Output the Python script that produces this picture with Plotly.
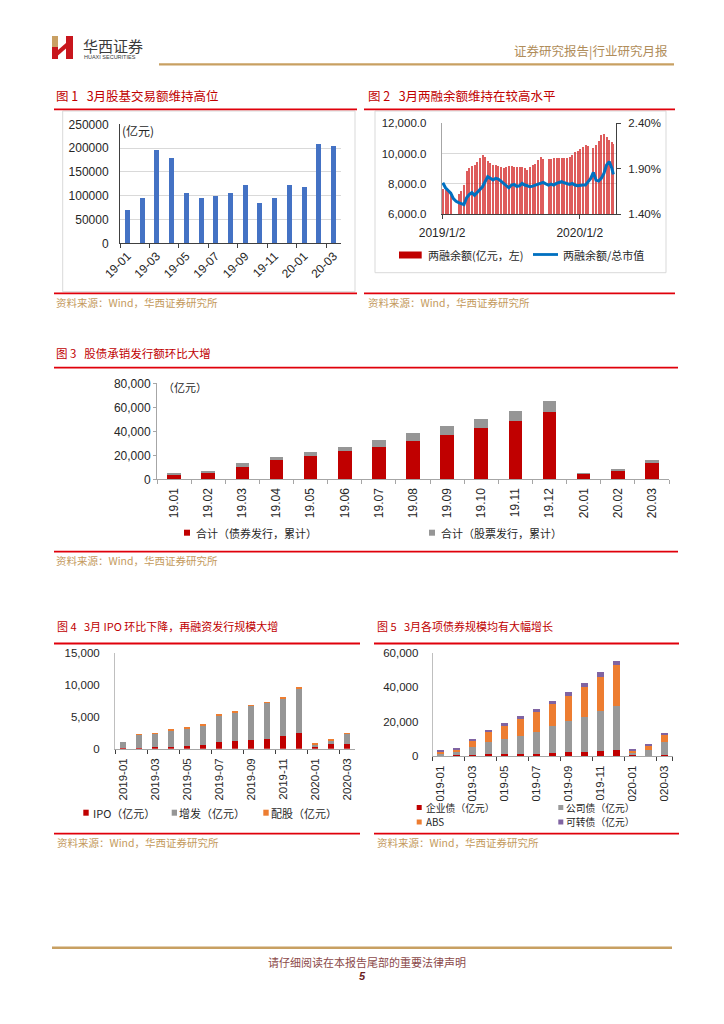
import plotly.graph_objects as go

W, H = 724, 1024
OFF = 8  # page body margin of the html page
def fx(x): return (x - OFF) / W
def fy(y): return 1 - (y - OFF) / H

CJK = "Noto Sans CJK SC"
NUM = "Liberation Sans"
TITLE_RED = "#c00000"
LINE_RED = "#e0000b"
GOLD = "#c49a5c"
AXIS_DARK = "#404040"
AXIS_GRAY = "#a6a6a6"
GRID = "#d9d9d9"

# ---------------- Fig 1 data: 股基交易额 (亿元)
FIG1_MONTHS = ["19-01", "19-02", "19-03", "19-04", "19-05", "19-06", "19-07", "19-08",
               "19-09", "19-10", "19-11", "19-12", "20-01", "20-02", "20-03"]
FIG1_TURNOVER = [71000, 94500, 195400, 178600, 105700, 95200, 99400, 106400,
                 121800, 84700, 94500, 123200, 118300, 208000, 205200]

# ---------------- Fig 2 data: 两融余额 (weekly reading) & 两融余额/总市值 (%)
FIG2_DATES = ["2019-01-04", "2019-01-11", "2019-01-18", "2019-01-25", "2019-02-01", "2019-02-08",
              "2019-02-15", "2019-02-22", "2019-03-01", "2019-03-08", "2019-03-15", "2019-03-22",
              "2019-03-29", "2019-04-05", "2019-04-12", "2019-04-19", "2019-04-26", "2019-05-03",
              "2019-05-10", "2019-05-17", "2019-05-24", "2019-05-31", "2019-06-07", "2019-06-14",
              "2019-06-21", "2019-06-28", "2019-07-05", "2019-07-12", "2019-07-19", "2019-07-26",
              "2019-08-02", "2019-08-09", "2019-08-16", "2019-08-23", "2019-08-30", "2019-09-06",
              "2019-09-13", "2019-09-20", "2019-09-27", "2019-10-04", "2019-10-11", "2019-10-18",
              "2019-10-25", "2019-11-01", "2019-11-08", "2019-11-15", "2019-11-22", "2019-11-29",
              "2019-12-06", "2019-12-13", "2019-12-20", "2019-12-27", "2020-01-03", "2020-01-10",
              "2020-01-17", "2020-01-23", "2020-01-31", "2020-02-07", "2020-02-14", "2020-02-21",
              "2020-02-28", "2020-03-06", "2020-03-13", "2020-03-20", "2020-03-27", "2020-03-31"]
FIG2_BALANCE = [7670, 7600, 7530, 7440, None, None,
                7310, 7530, 7930, 8820, 9040, 9150,
                9270, 9420, 9710, 9890, 9760, 9530,
                9380, 9270, 9220, 9160, 9110, 9040,
                9090, 9160, 9160, 9110, 9110, 9110,
                9090, 9040, 8930, 9090, 9220, 9310,
                9600, 9760, 9670, None, 9640, 9670,
                9710, 9730, 9710, 9710, 9710, 9690,
                9760, 9890, 10110, 10200, 10310, 10440,
                10560, 10530, None, 10380, 10560, 10820,
                11220, 11310, 11090, 10870, 10760, 10640]
FIG2_RATIO = [1.744, 1.689, 1.659, 1.630, 1.570, 1.541,
              1.526, 1.511, 1.504, 1.578, 1.615, 1.637,
              1.607, 1.637, 1.674, 1.700, 1.756, 1.811,
              1.793, 1.774, 1.793, 1.785, 1.763, 1.737,
              1.711, 1.689, 1.719, 1.726, 1.704, 1.711,
              1.737, 1.719, 1.711, 1.700, 1.707, 1.719,
              1.726, 1.737, 1.748, 1.733, 1.719, 1.730,
              1.719, 1.737, 1.748, 1.756, 1.744, 1.733,
              1.726, 1.737, 1.719, 1.711, 1.719, 1.719,
              1.719, 1.756, 1.793, 1.859, 1.774, 1.763,
              1.793, 1.848, 1.941, 1.978, 1.904, 1.837]
FIG2_RIGHT_TICKS = [1.4, 1.9, 2.4]
FIG2_RIGHT_TICKTEXT = ["1.40%", "1.90%", "2.40%"]

# ---------------- Fig 3 data: 股债承销 (亿元, 累计)
FIG3_MONTHS = ["19.01", "19.02", "19.03", "19.04", "19.05", "19.06", "19.07", "19.08",
               "19.09", "19.10", "19.11", "19.12", "20.01", "20.02", "20.03"]
FIG3_BOND = [3600, 5000, 10600, 15800, 19200, 23300, 27200, 31900,
             37200, 42500, 48900, 56100, 4200, 6700, 13600]
FIG3_EQUITY = [1400, 2200, 2700, 2800, 3300, 3900, 5800, 6400,
               7000, 7500, 8000, 9500, 800, 1900, 2800]

# ---------------- Fig 4 data: 股票发行 (亿元)
FIG4_MONTHS = ["2019-01", "2019-02", "2019-03", "2019-04", "2019-05", "2019-06", "2019-07", "2019-08",
               "2019-09", "2019-10", "2019-11", "2019-12", "2020-01", "2020-02", "2020-03"]
FIG4_IPO = [120, 150, 200, 310, 420, 580, 1050, 1250, 1360, 1560, 1980, 2500, 420, 680, 780]
FIG4_SEO = [980, 2150, 2200, 2560, 2810, 3070, 4220, 4480, 5360, 5630, 5940, 6980, 310, 680, 1570]
FIG4_RIGHTS = [0, 40, 80, 120, 130, 110, 120, 140, 120, 130, 140, 150, 160, 150, 150]

# ---------------- Fig 5 data: 债券发行 (亿元)
FIG5_MONTHS = ["2019-01", "2019-02", "2019-03", "2019-04", "2019-05", "2019-06", "2019-07", "2019-08",
               "2019-09", "2019-10", "2019-11", "2019-12", "2020-01", "2020-02", "2020-03"]
FIG5_TICKTEXT = ["019-01", "019-03", "019-05", "019-07", "019-09", "019-11", "020-01", "020-03"]
FIG5_ENTERPRISE = [580, 390, 770, 970, 1160, 1350, 1350, 1940, 2320, 2520, 2710, 3290, 390, 190, 580]
FIG5_CORPORATE = [970, 1930, 4260, 6960, 8710, 10450, 12780, 15480, 18000, 19930, 23220, 25740, 1550, 3290, 7740]
FIG5_ABS = [1150, 1550, 3870, 5810, 7740, 9680, 11610, 12780, 14700, 17410, 19930, 23600, 1550, 2710, 4450]
FIG5_CONVERTIBLE = [780, 770, 1160, 1350, 1350, 1550, 1350, 1540, 1940, 2320, 2710, 2710, 390, 580, 580]

fig = go.Figure()

# Fig 1
fig.add_trace(go.Bar(x=FIG1_MONTHS, y=FIG1_TURNOVER, marker=dict(color="#4472c4", line_width=0),
                     width=0.34, xaxis="x", yaxis="y", showlegend=False))
# Fig 2
fig.add_trace(go.Bar(x=FIG2_DATES, y=FIG2_BALANCE, marker=dict(color="#d01818", line_width=0),
                     width=3.6 * 86400000, opacity=0.7, xaxis="x2", yaxis="y2", showlegend=False))
fig.add_trace(go.Scatter(x=FIG2_DATES, y=FIG2_RATIO, mode="lines", line=dict(color="#0070c0", width=3),
                         xaxis="x2", yaxis="y3", showlegend=False))
# Fig 3
fig.add_trace(go.Bar(x=FIG3_MONTHS, y=FIG3_BOND, marker=dict(color="#c00000", line_width=0),
                     width=0.4, xaxis="x3", yaxis="y4", showlegend=False))
fig.add_trace(go.Bar(x=FIG3_MONTHS, y=FIG3_EQUITY, marker=dict(color="#969696", line_width=0),
                     width=0.4, xaxis="x3", yaxis="y4", showlegend=False))
# Fig 4
for vals, col in [(FIG4_IPO, "#c00000"), (FIG4_SEO, "#969696"), (FIG4_RIGHTS, "#ed7d31")]:
    fig.add_trace(go.Bar(x=FIG4_MONTHS, y=vals, marker=dict(color=col, line_width=0),
                         width=0.42, xaxis="x4", yaxis="y5", showlegend=False))
# Fig 5
for vals, col in [(FIG5_ENTERPRISE, "#c00000"), (FIG5_CORPORATE, "#999999"),
                  (FIG5_ABS, "#ed7d31"), (FIG5_CONVERTIBLE, "#8064a2")]:
    fig.add_trace(go.Bar(x=FIG5_MONTHS, y=vals, marker=dict(color=col, line_width=0),
                         width=0.42, xaxis="x5", yaxis="y6", showlegend=False))

numfont = lambda s=11.5: dict(family=NUM, size=s, color="#262626")

fig.update_layout(
    width=W, height=H, margin=dict(l=0, r=0, t=0, b=0, pad=0, autoexpand=False),
    paper_bgcolor="white", plot_bgcolor="white",
    barmode="stack", font=dict(family=CJK),
    xaxis=dict(domain=[fx(120), fx(341)], anchor="y", type="category", tickmode="linear", tick0=0, dtick=2,
               tickson="boundaries", tickangle=-45, ticks="outside", ticklen=4, tickcolor=AXIS_DARK,
               showline=True, linecolor=AXIS_DARK, showgrid=False, tickfont=numfont(12), automargin=False),
    yaxis=dict(domain=[fy(243.3), fy(124.3)], anchor="x", range=[0, 250000], dtick=50000, tickformat="d",
               showgrid=True, gridcolor=GRID, showline=True, linecolor=AXIS_DARK, ticks="",
               ticklabelstandoff=8, tickfont=numfont(12), zeroline=False, automargin=False),
    xaxis2=dict(domain=[fx(441.7), fx(616)], anchor="y2", type="date", range=["2019-01-01", "2020-04-07"],
                tickmode="array", tickvals=["2019-01-02", "2020-01-02"], ticktext=["2019/1/2", "2020/1/2"],
                ticks="outside", ticklen=4, tickcolor=AXIS_DARK, showline=True, linecolor=AXIS_DARK,
                showgrid=False, tickfont=numfont(12), ticklabelstandoff=4, automargin=False),
    yaxis2=dict(domain=[fy(214), fy(123.3)], anchor="x2", range=[6000, 12000], dtick=2000, tickformat=",.1f",
                showgrid=True, gridcolor=GRID, showline=True, linecolor=AXIS_GRAY, ticks="",
                ticklabelstandoff=12, tickfont=numfont(11.5), zeroline=False, automargin=False),
    yaxis3=dict(overlaying="y2", side="right", anchor="x2", range=[1.4, 2.4], tickmode="array",
                tickvals=FIG2_RIGHT_TICKS, ticktext=FIG2_RIGHT_TICKTEXT,
                showline=True, linecolor=AXIS_DARK, ticks="outside", ticklen=4,
                tickcolor=AXIS_DARK, showgrid=False, tickfont=numfont(11.5), ticklabelstandoff=5,
                zeroline=False, automargin=False),
    xaxis3=dict(domain=[fx(157), fx(669)], anchor="y4", type="category", tickangle=-90, tickson="boundaries",
                ticks="outside", ticklen=4, tickcolor=AXIS_GRAY, showline=True, linecolor=AXIS_GRAY,
                showgrid=False, tickfont=numfont(12), ticklabelstandoff=3, automargin=False),
    yaxis4=dict(domain=[fy(479.3), fy(383.3)], anchor="x3", range=[0, 80000], dtick=20000, tickformat=",",
                showgrid=False, showline=True, linecolor=AXIS_GRAY, ticks="outside", ticklen=3,
                tickcolor=AXIS_GRAY, tickfont=numfont(12), zeroline=False, automargin=False),
    xaxis4=dict(domain=[fx(115), fx(355)], anchor="y5", type="category", tickmode="linear", tick0=0, dtick=2,
                tickson="boundaries", tickangle=-90, ticks="outside", ticklen=4, tickcolor=AXIS_DARK,
                showline=True, linecolor=AXIS_GRAY, showgrid=False, tickfont=numfont(11.5),
                ticklabelstandoff=4, automargin=False),
    yaxis5=dict(domain=[fy(748.7), fy(652.7)], anchor="x4", range=[0, 15000], dtick=5000, tickformat=",",
                showgrid=False, showline=True, linecolor="#bfbfbf", ticks="", ticklabelstandoff=12,
                tickfont=numfont(11.5), zeroline=False, automargin=False),
    xaxis5=dict(domain=[fx(432.7), fx(672.7)], anchor="y6", type="category", tickmode="array",
                tickvals=FIG5_MONTHS[::2], ticktext=FIG5_TICKTEXT, tickson="boundaries", tickangle=-90,
                ticks="outside", ticklen=4, tickcolor=AXIS_DARK, showline=True, linecolor=AXIS_GRAY,
                showgrid=False, tickfont=numfont(11.5), ticklabelstandoff=4, automargin=False),
    yaxis6=dict(domain=[fy(756), fy(652.7)], anchor="x5", range=[0, 60000], dtick=20000, tickformat=",",
                showgrid=False, showline=True, linecolor="#bfbfbf", ticks="", ticklabelstandoff=11,
                tickfont=numfont(11.5), zeroline=False, automargin=False),
)

shapes = []
def hline(x0, x1, y, color, width):
    shapes.append(dict(type="line", xref="paper", yref="paper", x0=fx(x0), x1=fx(x1), y0=fy(y), y1=fy(y),
                       line=dict(color=color, width=width), layer="above"))
def rect(x0, y0, x1, y1, fill=None, line=None, lw=1):
    shapes.append(dict(type="rect", xref="paper", yref="paper", x0=fx(x0), x1=fx(x1), y0=fy(y1), y1=fy(y0),
                       fillcolor=fill if fill else "rgba(0,0,0,0)",
                       line=dict(color=line if line else "rgba(0,0,0,0)", width=lw if line else 0),
                       layer="below" if not fill else "above"))
def poly(pts, fill):
    path = "M " + " L ".join(f"{fx(x)},{fy(y)}" for x, y in pts) + " Z"
    shapes.append(dict(type="path", xref="paper", yref="paper", path=path, fillcolor=fill,
                       line=dict(width=0)))

def text(x, y, s, size, color="#262626", xanchor="left", family=CJK):
    fig.add_annotation(x=fx(x), y=fy(y), xref="paper", yref="paper", text=s, showarrow=False,
                       xanchor=xanchor, yanchor="middle", font=dict(family=family, size=size, color=color),
                       borderpad=0)

# Header
poly([(52, 36), (58, 36), (58, 47), (52, 47)], "#c9a063")
poly([(52, 47), (58, 47), (58, 59), (52, 59)], "#c8161d")
poly([(58, 50), (66, 43), (66, 48.5), (58, 55.5)], "#c8161d")
poly([(66, 36), (73, 36), (73, 59), (66, 59)], "#c8161d")
text(82, 45, "华西证券", 15, "#3a3a3a")
text(83, 56.5, "HUAXI SECURITIES", 5.5, "#3a3a3a", family=NUM)
text(669, 50, "证券研究报告|行业研究月报", 12.5, "#b08d5a", xanchor="right")
hline(159, 674, 64.3, "#c8a062", 2.2)

# Fig 1 frame
text(55, 95, "图 1   3月股基交易额维持高位", 12.5, TITLE_RED)
hline(54, 357, 109.3, LINE_RED, 1.8)
rect(62.7, 111, 355, 291.7, line="#d9d9d9")
hline(54, 357, 293.3, LINE_RED, 1.8)
text(55, 302, "资料来源：Wind，华西证券研究所", 10.5, GOLD)
text(121, 130.7, "(亿元)", 12, "#262626")

# Fig 2 frame
text(367, 95, "图 2   3月两融余额维持在较高水平", 12.5, TITLE_RED)
hline(364, 675, 109.3, LINE_RED, 1.8)
rect(375, 111, 666, 272.7, line="#d9d9d9")
hline(364, 675, 293.3, LINE_RED, 1.8)
text(367, 302, "资料来源：Wind，华西证券研究所", 10.5, GOLD)
rect(399, 251.5, 421.7, 258.5, fill="#c00000")
text(426.7, 255, "两融余额(亿元，左)", 11)
hline(533, 558, 254.5, "#0070c0", 2.8)
text(561.7, 255, "两融余额/总市值", 11)

# Fig 3 frame
text(55, 352.7, "图 3   股债承销发行额环比大增", 11.5, TITLE_RED)
hline(54, 678, 367.7, LINE_RED, 1.8)
text(162, 386.7, "（亿元）", 11, "#262626")
rect(184, 529.7, 190, 535.7, fill="#c00000")
text(195, 532.7, "合计（债券发行，累计）", 11)
rect(429, 529.7, 435, 535.7, fill="#969696")
text(440, 532.7, "合计（股票发行，累计）", 11)
hline(54, 678, 551.7, LINE_RED, 1.8)
text(55, 560.5, "资料来源：Wind，华西证券研究所", 10.5, GOLD)

# Fig 4 frame
text(56, 626, "图 4   3月 IPO 环比下降，再融资发行规模大增", 11, TITLE_RED)
hline(54, 360, 643.5, LINE_RED, 1.8)
rect(83.3, 809.7, 88.7, 815.7, fill="#c00000")
text(91.7, 812.7, "IPO（亿元）", 11)
rect(171.7, 809.7, 177, 815.7, fill="#969696")
text(178.3, 812.7, "增发（亿元）", 11)
rect(263.3, 809.7, 268.7, 815.7, fill="#ed7d31")
text(270, 812.7, "配股（亿元）", 11)
hline(54, 360, 833.7, LINE_RED, 1.8)
text(56, 842, "资料来源：Wind，华西证券研究所", 10.5, GOLD)

# Fig 5 frame
text(376, 626, "图 5   3月各项债券规模均有大幅增长", 11, TITLE_RED)
hline(374, 679, 643.5, LINE_RED, 1.8)
rect(416.7, 805, 421.7, 810, fill="#c00000")
text(425, 807.5, "企业债（亿元）", 9.8)
rect(558.3, 805, 563.3, 810, fill="#999999")
text(565, 807.5, "公司债（亿元）", 9.8)
rect(416.7, 819.5, 421.7, 824.5, fill="#ed7d31")
text(425, 822, "ABS", 9.8)
rect(558.3, 819.5, 563.3, 824.5, fill="#8064a2")
text(565, 822, "可转债（亿元）", 9.8)
hline(374, 679, 833.7, LINE_RED, 1.8)
text(376, 842, "资料来源：Wind，华西证券研究所", 10.5, GOLD)

# Footer
hline(52, 672, 947.7, "#c8a062", 2.5)
text(367, 961.7, "请仔细阅读在本报告尾部的重要法律声明", 11, "#8c4a4a", xanchor="center")
text(362, 975.7, "<b><i>5</i></b>", 11, "#6b1e1e", xanchor="center", family=NUM)

fig.update_layout(shapes=shapes)
fig.write_html("out.html")
